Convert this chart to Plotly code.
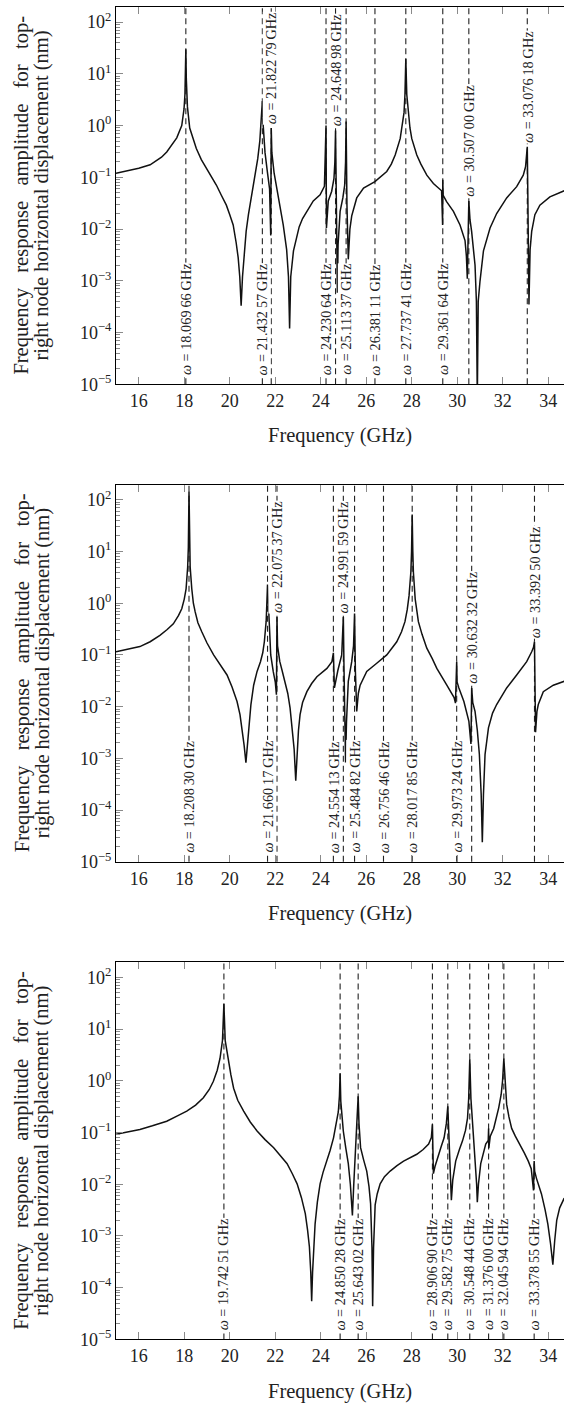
import numpy as np
import plotly.graph_objects as go

# ---------------- data (frequency in GHz, amplitude in nm) ----------------
curve1 = [
    (15.00, 0.12), (15.50, 0.135), (16.00, 0.15), (16.50, 0.175), (17.00, 0.245),
    (17.23, 0.31), (17.45, 0.42), (17.67, 0.58), (17.89, 1.0), (17.99, 2.1),
    (18.03, 4.0), (18.05, 8.0), (18.0697, 30), (18.09, 8.0), (18.11, 4.0),
    (18.14, 2.3), (18.24, 0.9), (18.38, 0.55), (18.53, 0.36), (18.75, 0.22),
    (18.97, 0.15), (19.20, 0.10), (19.41, 0.071), (19.63, 0.045), (19.85, 0.029),
    (20.00, 0.019), (20.15, 0.012), (20.28, 0.0055), (20.37, 0.0028), (20.44, 0.0012),
    (20.50, 0.00033), (20.56, 0.0012), (20.63, 0.0035), (20.72, 0.009), (20.82, 0.019),
    (20.94, 0.038), (21.05, 0.071), (21.15, 0.12), (21.23, 0.23), (21.32, 0.5),
    (21.39, 1.2), (21.4326, 3.0), (21.47, 1.0), (21.55, 0.3), (21.65, 0.13),
    (21.75, 0.06), (21.80, 0.0075), (21.8228, 0.9), (21.85, 0.3), (21.95, 0.12),
    (22.05, 0.07), (22.13, 0.045), (22.25, 0.022), (22.35, 0.012), (22.50, 0.004),
    (22.58, 0.0012), (22.63, 0.00012), (22.68, 0.0012), (22.80, 0.0038), (22.92, 0.0065),
    (23.05, 0.011), (23.20, 0.016), (23.38, 0.022), (23.67, 0.035), (23.97, 0.046),
    (24.16, 0.067), (24.2306, 1.0), (24.25, 0.0105), (24.33, 0.035), (24.48, 0.054),
    (24.58, 0.095), (24.62, 0.2), (24.649, 0.8), (24.68, 0.05), (24.71, 0.005),
    (24.73, 0.00059), (24.76, 0.005), (24.85, 0.022), (24.97, 0.04), (25.05, 0.07),
    (25.09, 0.2), (25.1134, 1.2), (25.15, 0.03), (25.21, 0.0026), (25.28, 0.01),
    (25.36, 0.018), (25.58, 0.04), (25.88, 0.062), (26.38, 0.083), (26.90, 0.13),
    (27.10, 0.18), (27.27, 0.27), (27.49, 0.56), (27.60, 1.1), (27.66, 1.8),
    (27.70, 4.0), (27.7374, 19.5), (27.78, 4.0), (27.85, 1.8), (27.92, 0.9),
    (28.00, 0.56), (28.22, 0.27), (28.40, 0.18), (28.66, 0.11), (28.95, 0.076),
    (29.15, 0.062), (29.31, 0.055), (29.355, 0.012), (29.3616, 0.09), (29.38, 0.045),
    (29.53, 0.034), (29.83, 0.022), (30.12, 0.012), (30.34, 0.006), (30.40, 0.003),
    (30.44, 0.0011), (30.507, 0.035), (30.56, 0.015), (30.63, 0.009), (30.78, 0.002),
    (30.84, 0.0004), (30.88, 0.000005), (30.92, 0.0004), (31.00, 0.001), (31.15, 0.0038),
    (31.44, 0.0105), (31.73, 0.02), (32.17, 0.04), (32.61, 0.066), (32.90, 0.11),
    (33.00, 0.16), (33.05, 0.25), (33.0762, 0.39), (33.10, 0.05), (33.15, 0.00035),
    (33.20, 0.004), (33.27, 0.009), (33.41, 0.019), (33.63, 0.029), (34.07, 0.042),
    (34.70, 0.055),
]

curve2 = [
    (15.00, 0.115), (15.50, 0.128), (16.05, 0.145), (16.50, 0.18), (16.93, 0.24),
    (17.25, 0.31), (17.52, 0.4), (17.75, 0.58), (17.89, 0.78), (18.00, 1.2),
    (18.08, 1.9), (18.15, 5.0), (18.18, 12), (18.2083, 145), (18.23, 12),
    (18.26, 5.0), (18.33, 1.9), (18.40, 1.0), (18.48, 0.68), (18.60, 0.42),
    (18.77, 0.28), (19.00, 0.17), (19.29, 0.1), (19.60, 0.062), (19.88, 0.041),
    (20.10, 0.024), (20.32, 0.0126), (20.45, 0.007), (20.54, 0.0039), (20.63, 0.0018),
    (20.71, 0.00083), (20.77, 0.0018), (20.83, 0.0039), (20.93, 0.011), (21.05, 0.026),
    (21.20, 0.048), (21.35, 0.074), (21.45, 0.11), (21.52, 0.18), (21.60, 0.45),
    (21.6602, 2.3), (21.70, 0.85), (21.75, 0.2), (21.80, 0.1), (21.91, 0.048),
    (22.00, 0.03), (22.05, 0.017), (22.0754, 0.54), (22.10, 0.15), (22.20, 0.074),
    (22.30, 0.05), (22.43, 0.031), (22.55, 0.018), (22.65, 0.0095), (22.75, 0.004),
    (22.83, 0.0015), (22.90, 0.00037), (22.96, 0.0015), (23.02, 0.0035), (23.09, 0.007),
    (23.20, 0.012), (23.39, 0.0195), (23.60, 0.028), (23.83, 0.038), (24.05, 0.046),
    (24.27, 0.055), (24.49, 0.074), (24.5541, 0.11), (24.60, 0.023), (24.75, 0.05),
    (24.92, 0.1), (24.96, 0.2), (24.9916, 0.54), (25.02, 0.06), (25.05, 0.01),
    (25.09, 0.00083), (25.13, 0.005), (25.21, 0.031), (25.36, 0.074), (25.44, 0.15),
    (25.4848, 0.63), (25.52, 0.05), (25.58, 0.0081), (25.65, 0.018), (25.73, 0.026),
    (26.02, 0.048), (26.46, 0.069), (26.90, 0.1), (27.34, 0.18), (27.55, 0.28),
    (27.70, 0.44), (27.80, 0.75), (27.88, 1.4), (27.96, 4.0), (27.99, 10),
    (28.0179, 52), (28.045, 10), (28.07, 4.0), (28.15, 1.2), (28.22, 0.7),
    (28.29, 0.44), (28.45, 0.25), (28.66, 0.135), (28.90, 0.085), (29.10, 0.055),
    (29.54, 0.026), (29.86, 0.015), (29.92, 0.0117), (29.9732, 0.074), (29.99, 0.03),
    (30.07, 0.023), (30.29, 0.0126), (30.51, 0.0052), (30.60, 0.0019), (30.6323, 0.023),
    (30.68, 0.012), (30.78, 0.0081), (30.88, 0.0035), (30.97, 0.0012), (31.05, 0.0002),
    (31.10, 0.000024), (31.15, 0.0002), (31.22, 0.0012), (31.37, 0.0039), (31.55, 0.0075),
    (31.73, 0.011), (32.17, 0.023), (32.61, 0.041), (33.05, 0.074), (33.27, 0.115),
    (33.35, 0.14), (33.3925, 0.18), (33.41, 0.03), (33.44, 0.0032), (33.50, 0.008),
    (33.56, 0.011), (33.78, 0.0195), (34.22, 0.026), (34.70, 0.031),
]

curve3 = [
    (15.00, 0.093), (15.50, 0.103), (16.05, 0.115), (16.60, 0.135), (17.23, 0.165),
    (17.70, 0.21), (18.11, 0.26), (18.50, 0.34), (18.84, 0.47), (19.10, 0.68),
    (19.28, 0.98), (19.45, 1.6), (19.57, 2.7), (19.68, 6.0), (19.7425, 31),
    (19.80, 6.0), (19.88, 3.5), (19.95, 2.4), (20.05, 1.3), (20.17, 0.72),
    (20.35, 0.42), (20.61, 0.26), (20.90, 0.16), (21.20, 0.107), (21.55, 0.073),
    (21.93, 0.051), (22.25, 0.035), (22.52, 0.025), (22.75, 0.016), (22.96, 0.0102),
    (23.15, 0.0055), (23.32, 0.0027), (23.42, 0.0013), (23.50, 0.00062), (23.56, 0.0002),
    (23.60, 0.000055), (23.64, 0.0002), (23.68, 0.0006), (23.75, 0.0017), (23.85, 0.0045),
    (23.97, 0.0102), (24.10, 0.017), (24.27, 0.028), (24.41, 0.045), (24.56, 0.079),
    (24.68, 0.14), (24.77, 0.25), (24.82, 0.5), (24.8503, 1.4), (24.88, 0.4),
    (24.93, 0.18), (24.99, 0.107), (25.10, 0.05), (25.21, 0.025), (25.30, 0.01),
    (25.39, 0.0025), (25.45, 0.01), (25.51, 0.033), (25.58, 0.12), (25.643, 0.5),
    (25.68, 0.15), (25.75, 0.051), (25.88, 0.03), (26.02, 0.018), (26.12, 0.009),
    (26.19, 0.0042), (26.25, 0.0006), (26.28, 0.000044), (26.32, 0.0006), (26.39, 0.004),
    (26.48, 0.0065), (26.61, 0.0102), (26.80, 0.014), (27.05, 0.018), (27.35, 0.023),
    (27.64, 0.028), (28.22, 0.038), (28.50, 0.047), (28.74, 0.06), (28.86, 0.08),
    (28.9069, 0.145), (28.93, 0.04), (28.95, 0.016), (29.02, 0.022), (29.13, 0.033),
    (29.30, 0.055), (29.42, 0.079), (29.52, 0.15), (29.5828, 0.32), (29.65, 0.05),
    (29.70, 0.015), (29.74, 0.0049), (29.80, 0.012), (29.93, 0.028), (30.10, 0.048),
    (30.23, 0.069), (30.36, 0.11), (30.45, 0.19), (30.50, 0.45), (30.5484, 2.6),
    (30.60, 0.45), (30.66, 0.19), (30.73, 0.07), (30.81, 0.025), (30.85, 0.01),
    (30.88, 0.0045), (30.93, 0.01), (31.03, 0.025), (31.15, 0.042), (31.25, 0.06),
    (31.36, 0.07), (31.376, 0.12), (31.385, 0.05), (31.45, 0.085), (31.60, 0.12),
    (31.72, 0.19), (31.82, 0.3), (31.93, 0.55), (31.99, 1.0), (32.0459, 2.7),
    (32.10, 1.0), (32.17, 0.35), (32.27, 0.2), (32.39, 0.12), (32.55, 0.085),
    (32.75, 0.06), (32.95, 0.04), (33.12, 0.028), (33.25, 0.02), (33.35, 0.0076),
    (33.3786, 0.028), (33.40, 0.018), (33.48, 0.013), (33.56, 0.0102), (33.70, 0.0065),
    (33.86, 0.0032), (33.98, 0.0017), (34.10, 0.0007), (34.20, 0.00028), (34.28, 0.0008),
    (34.37, 0.002), (34.50, 0.0035), (34.70, 0.0054),
]

res1 = [18.06966, 21.43257, 21.82279, 24.23064, 24.64898, 25.11337,
        26.38111, 27.73741, 29.36164, 30.50700, 33.07618]
lab1 = ["18.069 66", "21.432 57", "21.822 79", "24.230 64", "24.648 98", "25.113 37",
        "26.381 11", "27.737 41", "29.361 64", "30.507 00", "33.076 18"]
place1 = ["bottom", "bottom", "peak", "bottom", "peak", "bottom",
          "bottom", "bottom", "bottom", "peak", "peak"]

res2 = [18.20830, 21.66017, 22.07537, 24.55413, 24.99159, 25.48482,
        26.75646, 28.01785, 29.97324, 30.63232, 33.39250]
lab2 = ["18.208 30", "21.660 17", "22.075 37", "24.554 13", "24.991 59", "25.484 82",
        "26.756 46", "28.017 85", "29.973 24", "30.632 32", "33.392 50"]
place2 = ["bottom", "bottom", "peak", "bottom", "peak", "bottom",
          "bottom", "bottom", "bottom", "peak", "peak"]

res3 = [19.74251, 24.85028, 25.64302, 28.90690, 29.58275, 30.54844,
        31.37600, 32.04594, 33.37855]
lab3 = ["19.742 51", "24.850 28", "25.643 02", "28.906 90", "29.582 75", "30.548 44",
        "31.376 00", "32.045 94", "33.378 55"]
place3 = ["bottom"] * 9

x_ticks = [16, 18, 20, 22, 24, 26, 28, 30, 32, 34]
y_tick_exponents = [-5, -4, -3, -2, -1, 0, 1, 2]
x_title = "Frequency (GHz)"
y_title_1 = "Frequency\u2002 response\u2002 amplitude\u2002 for\u2002 top-"
y_title_2 = "right node horizontal displacement (nm)"

# ---------------- layout constants ----------------
FIG_W, FIG_H = 564, 1413
LEFT = 116
PLOT_W = FIG_W - LEFT
PANEL_TOPS = [7, 488, 969]
PANEL_H = 380
X_RANGE = [15, 34.69]
Y_RANGE = [-5, 2.294]
FONT = "Liberation Serif"
TICK_COLOR = "#8a8a8a"
TEXT_COLOR = "#222"

y_tickvals = [10.0 ** e for e in y_tick_exponents]
y_ticktext = ["10<sup>" + str(e).replace("-", "\u2212") + "</sup>" for e in y_tick_exponents]
y_minor_vals = [k * 10.0 ** e for e in y_tick_exponents for k in range(2, 10)]

panels = [(curve1, res1, lab1, place1), (curve2, res2, lab2, place2),
          (curve3, res3, lab3, place3)]

fig = go.Figure()
shapes, annotations = [], []
layout_axes = {}

for i, (curve, res, labs, place) in enumerate(panels):
    sfx = "" if i == 0 else str(i + 1)
    f = np.array([p[0] for p in curve])
    a = np.array([p[1] for p in curve])
    fig.add_trace(go.Scatter(
        x=f, y=a, mode="lines", line=dict(color="#111", width=1.5),
        xaxis="x" + sfx, yaxis="y" + sfx, showlegend=False, hoverinfo="skip"))

    top = PANEL_TOPS[i]
    dom = [1 - (top + PANEL_H) / FIG_H, 1 - top / FIG_H]
    layout_axes["xaxis" + sfx] = dict(
        domain=[0, 1], range=X_RANGE, anchor="y" + sfx,
        showline=True, linecolor="black", linewidth=1.1, mirror="ticks",
        ticks="inside", ticklen=7, tickcolor=TICK_COLOR, tickwidth=1,
        tickvals=x_ticks, ticktext=[str(t) for t in x_ticks],
        tickfont=dict(family=FONT, size=18, color=TEXT_COLOR),
        showgrid=False, zeroline=False)
    layout_axes["yaxis" + sfx] = dict(
        domain=dom, type="log", range=Y_RANGE, anchor="x" + sfx,
        showline=True, linecolor="black", linewidth=1.1, mirror=False,
        ticks="inside", ticklen=7, tickcolor=TICK_COLOR, tickwidth=1,
        tickvals=y_tickvals, ticktext=y_ticktext,
        minor=dict(ticks="inside", ticklen=4, tickcolor=TICK_COLOR, tickwidth=1,
                   tickvals=y_minor_vals, showgrid=False),
        tickfont=dict(family=FONT, size=18, color=TEXT_COLOR),
        showgrid=False, zeroline=False)

    for r in res:
        shapes.append(dict(type="line", xref="x" + sfx, yref="y" + sfx + " domain",
                           x0=r, x1=r, y0=0, y1=1, layer="below",
                           line=dict(color="#222", width=1.1, dash="6px,4px")))

    for r, lab, pl in zip(res, labs, place):
        text = "<i>ω</i> = " + lab.replace(" ", "\u2009") + "\u2009GHz"
        common = dict(x=r, xref="x" + sfx, text=text, textangle=-90, showarrow=False,
                      xanchor="center", yanchor="bottom", bgcolor="white",
                      borderpad=0, font=dict(family=FONT, size=14.3, color=TEXT_COLOR))
        if pl == "bottom":
            annotations.append(dict(y=0, yref="y" + sfx + " domain", yshift=8, **common))
        else:
            near = np.abs(f - r) < 0.03
            peak = a[near].max()
            annotations.append(dict(y=np.log10(peak), yref="y" + sfx, yshift=3, **common))

    # axis titles
    annotations.append(dict(
        text=x_title, xref="paper", yref="paper", x=0.5,
        y=1 - (top + PANEL_H + 52) / FIG_H, xanchor="center", yanchor="middle",
        showarrow=False, font=dict(family=FONT, size=20.5, color=TEXT_COLOR)))
    ymid = 1 - (top + PANEL_H / 2) / FIG_H
    annotations.append(dict(
        text=y_title_1, xref="paper", yref="paper", x=(22 - LEFT) / PLOT_W, y=ymid,
        xanchor="center", yanchor="middle", textangle=-90, showarrow=False,
        font=dict(family=FONT, size=20.5, color=TEXT_COLOR)))
    annotations.append(dict(
        text=y_title_2, xref="paper", yref="paper", x=(42 - LEFT) / PLOT_W, y=ymid,
        xanchor="center", yanchor="middle", textangle=-90, showarrow=False,
        font=dict(family=FONT, size=20.5, color=TEXT_COLOR)))

fig.update_layout(
    width=FIG_W, height=FIG_H,
    margin=dict(l=LEFT, r=0, t=0, b=0, pad=0),
    paper_bgcolor="white", plot_bgcolor="white",
    font=dict(family=FONT, color=TEXT_COLOR),
    shapes=shapes, annotations=annotations, showlegend=False,
    **layout_axes)

fig.write_html("out.html",
               config={"displayModeBar": False},
               post_script="document.body.style.margin='0';"
                           "document.body.style.overflow='hidden';")
